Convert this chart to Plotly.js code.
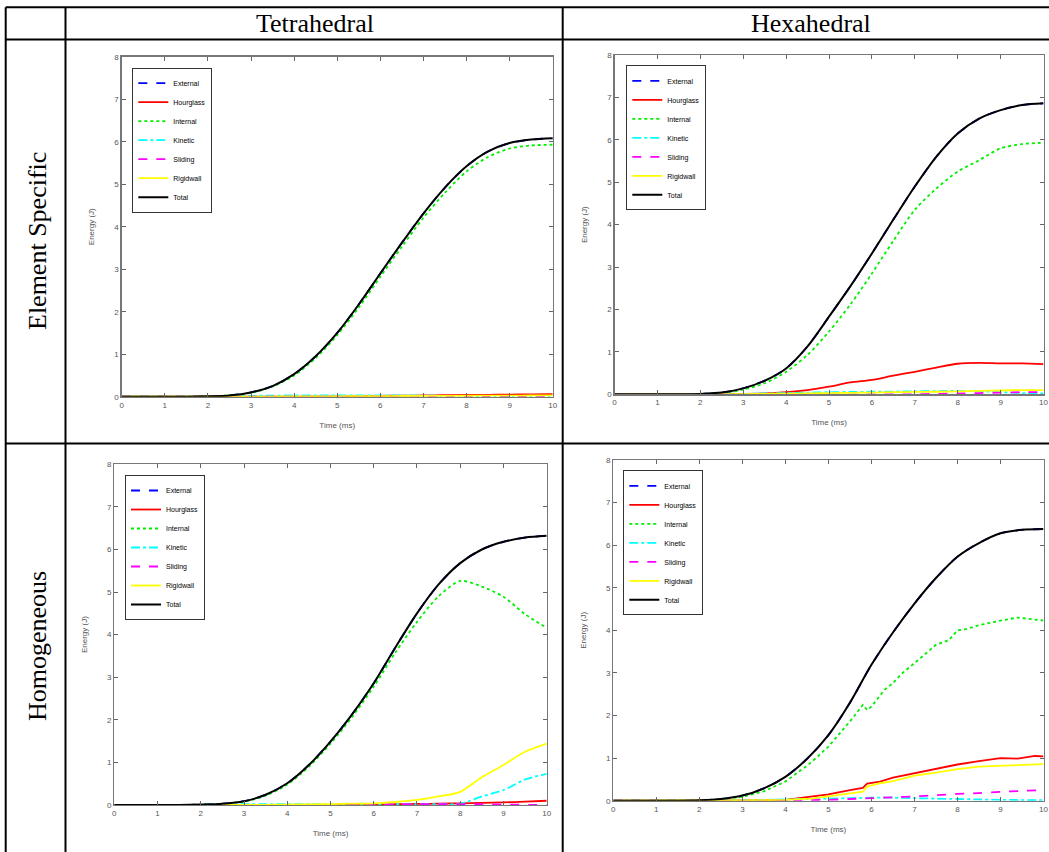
<!DOCTYPE html>
<html>
<head>
<meta charset="utf-8">
<script src="https://cdn.plot.ly/plotly-3.0.1.min.js"></script>
<style>html,body{margin:0;padding:0;background:#fff;}#chart{width:1049px;height:852px;}</style>
</head>
<body>
<div id="chart"></div>
<script>
// ---------- DATA ----------
const columnLabels = ["Tetrahedral", "Hexahedral"];
const rowLabels = ["Element Specific", "Homogeneous"];
const seriesNames = ["External", "Hourglass", "Internal", "Kinetic", "Sliding", "Rigidwall", "Total"];
const xTitle = "Time (ms)";
const yTitle = "Energy (J)";

// common time grid (ms)
const t = [0,0.5,1,1.5,2,2.5,3,3.5,4,4.5,5,5.5,6,6.5,7,7.5,8,8.5,9,9.5,10];

// Tetrahedral - Element Specific
const tetES_total     = [0,0,0,0,0.01,0.03,0.1,0.25,0.53,0.95,1.5,2.17,2.9,3.62,4.31,4.92,5.42,5.77,5.97,6.05,6.08];
const tetES_external  = [0,0,0,0,0.01,0.03,0.1,0.25,0.53,0.95,1.5,2.17,2.9,3.62,4.31,4.92,5.42,5.77,5.97,6.05,6.08];
const tetES_internal  = [0,0,0,0,0.01,0.03,0.09,0.24,0.5,0.91,1.45,2.1,2.82,3.53,4.21,4.8,5.3,5.64,5.84,5.91,5.93];
const tetES_hourglass = [0,0,0,0,0,0,0,0,0,0.005,0.01,0.015,0.02,0.025,0.03,0.035,0.04,0.045,0.05,0.055,0.06];
const tetES_kinetic   = [0,0,0,0,0.005,0.01,0.02,0.025,0.03,0.03,0.03,0.03,0.03,0.03,0.025,0.02,0.015,0.01,0.005,0.005,0];
const tetES_sliding   = [0,0,0,0,0,0,0,0,0,0,0,0,0.005,0.005,0.005,0.005,0.005,0.005,0.005,0.005,0.005];
const tetES_rigidwall = [0,0,0,0,0,0,0.002,0.004,0.006,0.008,0.01,0.012,0.014,0.016,0.018,0.02,0.022,0.024,0.026,0.028,0.03];

// Hexahedral - Element Specific
const hexES_total     = [0,0,0,0,0.01,0.04,0.14,0.32,0.61,1.13,1.83,2.55,3.32,4.12,4.9,5.6,6.15,6.5,6.7,6.82,6.86];
const hexES_external  = [0,0,0,0,0.01,0.04,0.14,0.32,0.61,1.13,1.83,2.55,3.32,4.12,4.9,5.6,6.15,6.5,6.7,6.82,6.86];
const hexES_internal  = [0,0,0,0,0.01,0.03,0.11,0.26,0.53,0.93,1.48,2.12,2.85,3.62,4.35,4.85,5.25,5.52,5.8,5.9,5.93];
const hexES_hourglass = [0,0,0,0,0,0.005,0.01,0.02,0.05,0.1,0.18,0.28,0.34,0.44,0.53,0.63,0.72,0.74,0.73,0.73,0.71];
const hexES_kinetic   = [0,0,0,0,0,0.005,0.01,0.02,0.03,0.04,0.05,0.055,0.06,0.065,0.07,0.075,0.08,0.07,0.05,0.03,0.02];
const hexES_sliding   = [0,0,0,0,0,0,0,0,0,0,0,0,0,0,0,0.01,0.02,0.03,0.04,0.05,0.05];
const hexES_rigidwall = [0,0,0,0,0,0,0.005,0.01,0.015,0.02,0.03,0.035,0.04,0.05,0.055,0.06,0.07,0.08,0.09,0.1,0.1];

// Tetrahedral - Homogeneous
const tetH_total     = [0,0,0,0,0.01,0.03,0.09,0.24,0.51,0.94,1.49,2.13,2.86,3.7,4.5,5.18,5.68,6.0,6.18,6.28,6.32];
const tetH_external  = [0,0,0,0,0.01,0.03,0.09,0.24,0.51,0.94,1.49,2.13,2.86,3.7,4.5,5.18,5.68,6.0,6.18,6.28,6.32];
const tetH_internal  = [0,0,0,0,0.01,0.03,0.08,0.22,0.48,0.9,1.44,2.07,2.78,3.58,4.3,4.9,5.26,5.13,4.89,4.48,4.16];
const tetH_hourglass = [0,0,0,0,0,0,0,0,0,0,0.005,0.01,0.015,0.02,0.025,0.03,0.04,0.05,0.06,0.08,0.1];
const tetH_kinetic   = [0,0,0,0,0.005,0.01,0.02,0.02,0.02,0.02,0.02,0.02,0.02,0.02,0.02,0.02,0.03,0.2,0.35,0.6,0.73];
const tetH_sliding   = [0,0,0,0,0,0,0,0,0,0,0.005,0.01,0.015,0.02,0.02,0.02,0.02,0.02,0.01,0.005,0];
const tetH_rigidwall = [0,0,0,0,0,0,0,0.005,0.01,0.015,0.02,0.03,0.04,0.07,0.12,0.2,0.31,0.65,0.94,1.25,1.44];

// Hexahedral - Homogeneous
const hexH_total     = [0,0,0,0,0.01,0.04,0.12,0.29,0.56,0.98,1.54,2.3,3.19,3.95,4.63,5.23,5.73,6.05,6.28,6.36,6.38];
const hexH_external  = [0,0,0,0,0.01,0.04,0.12,0.29,0.56,0.98,1.54,2.3,3.19,3.95,4.63,5.23,5.73,6.05,6.28,6.36,6.38];
const hexH_kinetic   = [0,0,0,0,0,0.005,0.01,0.02,0.03,0.04,0.05,0.06,0.07,0.07,0.06,0.05,0.04,0.03,0.02,0.015,0.01];
const hexH_sliding   = [0,0,0,0,0,0,0,0.005,0.01,0.015,0.02,0.04,0.06,0.08,0.1,0.13,0.16,0.18,0.21,0.23,0.25];
const tHexH_int      = [0,0.5,1,1.5,2,2.5,3,3.5,4,4.5,4.7,5,5.5,5.8,5.9,6,6.3,6.5,6.7,7,7.5,7.8,8,8.2,8.5,9,9.4,10];
const hexH_internal  = [0,0,0,0,0.01,0.03,0.09,0.22,0.45,0.82,0.99,1.27,1.86,2.25,2.13,2.21,2.6,2.76,2.98,3.23,3.66,3.77,4.0,4.03,4.12,4.23,4.3,4.23];
const tHexH_hr       = [0,1,2,3,4,4.6,5,5.5,5.8,5.9,6.2,6.5,7,7.5,8,8.5,9,9.4,9.8,10];
const hexH_hourglass = [0,0,0,0.005,0.02,0.09,0.15,0.25,0.3,0.4,0.45,0.54,0.64,0.74,0.85,0.93,1.0,0.99,1.05,1.04];
const hexH_rigidwall = [0,0,0,0.005,0.02,0.05,0.1,0.17,0.21,0.33,0.41,0.46,0.59,0.66,0.74,0.8,0.82,0.83,0.85,0.86];

// ---------- STYLE ----------
const W = 1049, H = 852;
const px = v => v / W;
const py = v => 1 - v / H;

const styles = [
  {color: "#0000ff", dash: "dash"},
  {color: "#ff0000", dash: "solid"},
  {color: "#00f000", dash: "dot"},
  {color: "#00ffff", dash: "dashdot"},
  {color: "#ff00ff", dash: "dash"},
  {color: "#ffff00", dash: "solid"},
  {color: "#000000", dash: "solid"}
];

const panels = [
  {xs: [t,t,t,t,t,t,t], ys: [tetES_external, tetES_hourglass, tetES_internal, tetES_kinetic, tetES_sliding, tetES_rigidwall, tetES_total],
   smooth: [1,1,1,1,1,1,1], box: [121.7, 552.7, 56.7, 396.7], leg: [132.3, 67.7]},
  {xs: [t,t,t,t,t,t,t], ys: [hexES_external, hexES_hourglass, hexES_internal, hexES_kinetic, hexES_sliding, hexES_rigidwall, hexES_total],
   smooth: [1,1,1,1,1,1,1], box: [614.5, 1043.5, 55, 394.3], leg: [626.3, 65.3]},
  {xs: [t,t,t,t,t,t,t], ys: [tetH_external, tetH_hourglass, tetH_internal, tetH_kinetic, tetH_sliding, tetH_rigidwall, tetH_total],
   smooth: [1,1,1,1,1,1,1], box: [114.3, 546.7, 464.3, 805], leg: [125, 475]},
  {xs: [t,tHexH_hr,tHexH_int,t,t,tHexH_hr,t], ys: [hexH_external, hexH_hourglass, hexH_internal, hexH_kinetic, hexH_sliding, hexH_rigidwall, hexH_total],
   smooth: [1,0,0,1,1,0,1], box: [613.3, 1043.5, 460, 800.7], leg: [623.3, 470.3]}
];

const traces = [];
const layout = {
  width: W, height: H,
  margin: {l: 0, r: 0, t: 0, b: 0},
  paper_bgcolor: "#fff", plot_bgcolor: "#fff",
  font: {family: "Liberation Sans, Arial, sans-serif", color: "#555", size: 8},
  shapes: [], annotations: []
};

panels.forEach((p, i) => {
  const n = i + 1;
  const xa = n === 1 ? "x" : "x" + n;
  const ya = n === 1 ? "y" : "y" + n;
  const legName = n === 1 ? "legend" : "legend" + n;
  seriesNames.forEach((name, k) => {
    const line = {color: styles[k].color, dash: styles[k].dash, width: k === 6 ? 2 : 1.8};
    if (p.smooth[k]) { line.shape = "spline"; line.smoothing = 0.8; }
    traces.push({
      type: "scatter", mode: "lines", name: name,
      x: p.xs[k], y: p.ys[k], xaxis: xa, yaxis: ya, legend: legName,
      line: line, cliponaxis: true, hoverinfo: "skip"
    });
  });
  const axCommon = {
    showgrid: false, zeroline: false, showline: true, mirror: "ticks",
    linecolor: "#777", linewidth: 1.3, ticks: "inside", ticklen: 4, tickwidth: 1, tickcolor: "#666",
    tickfont: {size: 8, color: "#555"}, fixedrange: true, ticklabeloverflow: "allow"
  };
  layout[n === 1 ? "xaxis" : "xaxis" + n] = Object.assign({}, axCommon, {
    domain: [px(p.box[0]), px(p.box[1])], range: [0, 10], dtick: 1, tick0: 0,
    anchor: ya, title: {text: xTitle, font: {size: 8, color: "#555"}, standoff: 13}
  });
  layout[n === 1 ? "yaxis" : "yaxis" + n] = Object.assign({}, axCommon, {
    domain: [py(p.box[3]), py(p.box[2])], range: [0, 8], dtick: 1, tick0: 0,
    anchor: xa, title: {text: yTitle, font: {size: 8, color: "#555"}, standoff: 18}
  });
  layout[legName] = {
    x: px(p.leg[0]), y: py(p.leg[1]), xanchor: "left", yanchor: "top",
    bgcolor: "#fff", bordercolor: "#333", borderwidth: 1,
    font: {size: 7, color: "#000"}, tracegroupgap: 0
  };
});

// table grid
const lineStyle = {color: "#000", width: 2};
const hLines = [7.3, 39.5, 443.5];
const vLines = [5.7, 65.5, 562.7];
hLines.forEach(y => layout.shapes.push({type: "line", xref: "paper", yref: "paper", x0: px(5.7), x1: 1, y0: py(y), y1: py(y), line: lineStyle}));
vLines.forEach(x => layout.shapes.push({type: "line", xref: "paper", yref: "paper", x0: px(x), x1: px(x), y0: py(7.3), y1: 0, line: lineStyle}));

const serif = {family: "Liberation Serif, Times New Roman, serif", size: 26, color: "#000"};
layout.annotations.push({xref: "paper", yref: "paper", x: px(315), y: py(24), text: columnLabels[0], showarrow: false, font: serif, xanchor: "center", yanchor: "middle"});
layout.annotations.push({xref: "paper", yref: "paper", x: px(811), y: py(24), text: columnLabels[1], showarrow: false, font: serif, xanchor: "center", yanchor: "middle"});
layout.annotations.push({xref: "paper", yref: "paper", x: px(37), y: py(241), text: rowLabels[0], showarrow: false, font: serif, textangle: -90, xanchor: "center", yanchor: "middle"});
layout.annotations.push({xref: "paper", yref: "paper", x: px(37), y: py(646), text: rowLabels[1], showarrow: false, font: serif, textangle: -90, xanchor: "center", yanchor: "middle"});

Plotly.newPlot("chart", traces, layout, {staticPlot: true, displayModeBar: false});
</script>
</body>
</html>
